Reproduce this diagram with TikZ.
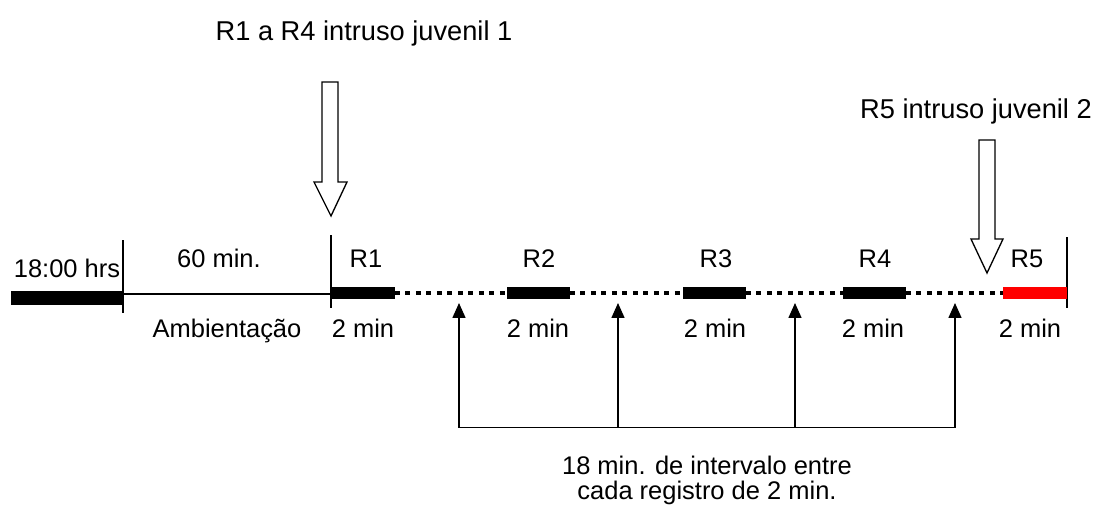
\documentclass[tikz,border=0pt]{standalone}
\usepackage{fontspec}
\setmainfont{Liberation Sans}
\usetikzlibrary{arrows.meta}
\begin{document}
\begin{tikzpicture}[x=0.02cm,y=-0.02cm,
  lbl/.style={font=\fontsize{14.5}{17}\selectfont, inner sep=0pt, anchor=base},
  toplbl/.style={lbl, font=\fontsize{15.5}{18}\selectfont},
  thinline/.style={line width=0.8pt},
  recbar/.style={line width=6.8pt},
  gapline/.style={line width=2.8pt, dash pattern=on 2.67pt off 3.3pt},
  tickline/.style={line width=0.85pt},
  pointer/.style={line width=0.8pt, -{Triangle[length=8.5pt,width=7.4pt]}},
  bracket/.style={line width=1pt},
  blockarrow/.style={line width=0.75pt, fill=white, line join=miter}]
\useasboundingbox (0,0) rectangle (1093,512);

% start block and acclimation period
\coordinate (s0) at (11,298);
\coordinate (s1) at (123,298);
\coordinate (a0) at (123,294);
\coordinate (a1) at (331,294);
\draw[line width=7.9pt] (s0) -- (s1);
\draw[thinline] (a0) -- (a1);

% vertical ticks
\coordinate (k1t) at (123,240); \coordinate (k1b) at (123,313);
\coordinate (k2t) at (331,235); \coordinate (k2b) at (331,308);
\coordinate (k3t) at (1067,237); \coordinate (k3b) at (1067,308);
\draw[tickline] (k1t) -- (k1b);
\draw[tickline] (k2t) -- (k2b);
\draw[tickline] (k3t) -- (k3b);

% recording bars
\coordinate (r1a) at (332,293); \coordinate (r1b) at (395,293);
\coordinate (r2a) at (507,293); \coordinate (r2b) at (570,293);
\coordinate (r3a) at (683,293); \coordinate (r3b) at (746,293);
\coordinate (r4a) at (843,293); \coordinate (r4b) at (906,293);
\coordinate (r5a) at (1003,293); \coordinate (r5b) at (1067,293);
\draw[gapline] (r1b) -- (r2a);
\draw[gapline] (r2b) -- (r3a);
\draw[gapline] (r3b) -- (r4a);
\draw[gapline] (r4b) -- (r5a);
\draw[recbar] (r1a) -- (r1b);
\draw[recbar] (r2a) -- (r2b);
\draw[recbar] (r3a) -- (r3b);
\draw[recbar] (r4a) -- (r4b);
\draw[recbar, red] (r5a) -- (r5b);

% labels on the timeline
\node[lbl] (hora) at (67,277) {18:00 hrs};
\node[lbl] (amb) at (219,267) {60 min.};
\node[lbl] (ambl) at (227,337) {Ambientação};
\node[lbl] (l1) at (366,267) {R1};
\node[lbl] (l2) at (539,267) {R2};
\node[lbl] (l3) at (716,267) {R3};
\node[lbl] (l4) at (875,267) {R4};
\node[lbl] (l5) at (1027,267) {R5};
\node[lbl] (d1) at (363,337) {2 min};
\node[lbl] (d2) at (538,337) {2 min};
\node[lbl] (d3) at (715,337) {2 min};
\node[lbl] (d4) at (873,337) {2 min};
\node[lbl] (d5) at (1030,337) {2 min};

% interval pointers
\coordinate (p1) at (459,427.5); \coordinate (q1) at (459,303);
\coordinate (p2) at (618,427.5); \coordinate (q2) at (618,303);
\coordinate (p3) at (795,427.5); \coordinate (q3) at (795,303);
\coordinate (p4) at (955,427.5); \coordinate (q4) at (955,303);
\draw[pointer] (p1) -- (q1);
\draw[pointer] (p2) -- (q2);
\draw[pointer] (p3) -- (q3);
\draw[pointer] (p4) -- (q4);
\draw[bracket] (p1) -- (p4);
\node[lbl] (int1) at (707,474) {18 min. de intervalo entre};
\node[lbl] (int2) at (707,499) {cada registro de 2 min.};

% intruder arrows
\node[toplbl] (in1) at (364,40) {R1 a R4 intruso juvenil 1};
\draw[blockarrow] (322,82) -- (338,82) -- (338,182) -- (347,182) -- (331,216)
  -- (314,182) -- (322,182) -- cycle;
\node[toplbl] (in2) at (976,118) {R5 intruso juvenil 2};
\draw[blockarrow] (979,140) -- (995,140) -- (995,239) -- (1003,239) -- (987,273)
  -- (971,239) -- (979,239) -- cycle;
\end{tikzpicture}
\end{document}
